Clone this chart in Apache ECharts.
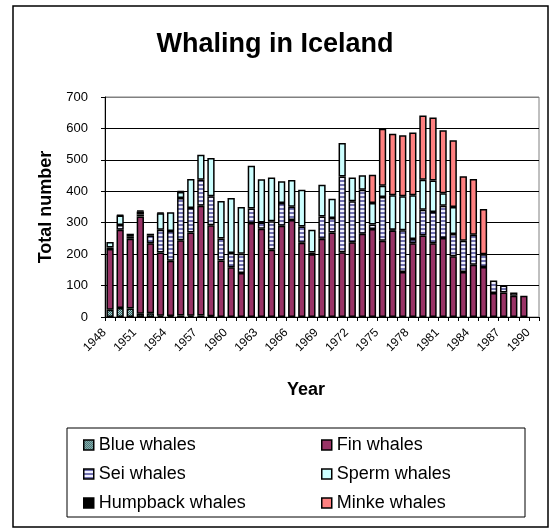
<!DOCTYPE html>
<html>
<head>
<meta charset="utf-8">
<script src="https://cdn.jsdelivr.net/npm/echarts@6.0.0/dist/echarts.min.js"></script>
<style>
  html, body { margin: 0; padding: 0; background: #fff; }
  #chart { width: 550px; height: 529px; }
</style>
</head>
<body>
<div id="chart"></div>
<script>
// years 1948 - 1990
const years = []
for (let y = 1948; y <= 1990; y++) years.push(String(y))

const blueWhales = [23, 29, 27, 10, 12, 4, 3, 5, 4, 5, 2, 0, 0, 0, 0, 0, 0, 0, 0, 0, 0, 0, 0, 0, 0, 0, 0, 0, 0, 0, 0, 0, 0, 0, 0, 0, 0, 0, 0, 0, 0, 0, 0]
const finWhales = [193, 249, 222, 310, 223, 201, 176, 239, 265, 349, 290, 180, 158, 140, 299, 281, 214, 290, 309, 236, 200, 249, 269, 206, 238, 265, 280, 243, 275, 143, 235, 259, 235, 251, 193, 143, 166, 159, 76, 78, 68, 68, 0]
const seiWhales = [5, 15, 8, 6, 24, 73, 95, 135, 78, 83, 92, 70, 46, 61, 46, 20, 91, 73, 42, 52, 5, 71, 46, 241, 130, 140, 14, 139, 3, 133, 13, 82, 99, 103, 71, 100, 96, 41, 40, 22, 10, 0, 0]
const spermWhales = [18, 30, 8, 10, 6, 52, 59, 19, 92, 79, 122, 119, 175, 149, 136, 137, 139, 69, 85, 117, 73, 101, 61, 107, 76, 46, 69, 36, 109, 108, 139, 96, 100, 40, 86, 0, 0, 0, 0, 0, 0, 0, 0]
const humpbackWhales = [0, 2, 0, 2, 0, 2, 0, 2, 0, 0, 0, 0, 0, 0, 0, 0, 0, 0, 0, 0, 0, 0, 0, 0, 0, 0, 0, 0, 0, 0, 0, 0, 0, 0, 0, 0, 0, 0, 0, 0, 0, 0, 0]
const minkeWhales = [0, 0, 0, 0, 0, 0, 0, 0, 0, 0, 0, 0, 0, 0, 0, 0, 0, 0, 0, 0, 0, 0, 0, 0, 0, 0, 90, 181, 196, 194, 200, 204, 201, 200, 212, 205, 177, 144, 0, 0, 0, 0, 0]

const FONT = 'Arial, "Liberation Sans", sans-serif'

// small canvas fills for the hatched series
function pattern (w, h, draw) {
  const c = document.createElement('canvas')
  c.width = w
  c.height = h
  draw(c.getContext('2d'))
  return { image: c, repeat: 'repeat' }
}

const bluePattern = pattern(2, 2, function (ctx) {
  ctx.fillStyle = '#a8c8c8'
  ctx.fillRect(0, 0, 2, 2)
  ctx.fillStyle = '#2f6060'
  ctx.fillRect(0, 0, 1, 1)
  ctx.fillRect(1, 1, 1, 1)
})

const seiPattern = pattern(4, 4, function (ctx) {
  ctx.fillStyle = '#f0f0ff'
  ctx.fillRect(0, 0, 4, 4)
  ctx.fillStyle = '#7070b0'
  ctx.fillRect(0, 0, 4, 2)
})

function barSeries (name, data, color) {
  return {
    name: name,
    type: 'bar',
    stack: 'total',
    barWidth: '72%',
    itemStyle: {
      color: color,
      borderColor: '#000',
      borderWidth: 1.5
    },
    emphasis: { disabled: true },
    data: data.map(function (v) { return v || null })
  }
}

const legendText = { fontFamily: FONT, fontSize: 18, lineHeight: 18, color: '#000' }

const chart = echarts.init(document.getElementById('chart'))
chart.setOption({
  animation: false,
  textStyle: { fontFamily: FONT, color: '#000' },
  title: {
    text: 'Whaling in Iceland',
    left: 270,
    top: 26,
    textAlign: 'center',
    textStyle: { fontFamily: FONT, fontSize: 27, fontWeight: 'bold', color: '#000' }
  },
  grid: {
    left: 105,
    right: 11,
    top: 97,
    bottom: 212,
    show: true,
    borderColor: '#808080',
    borderWidth: 1
  },
  legend: [{
    orient: 'vertical',
    left: 78,
    top: 431,
    itemWidth: 10,
    itemHeight: 10,
    itemGap: 11,
    icon: 'rect',
    itemStyle: { borderColor: '#000', borderWidth: 1.5 },
    textStyle: legendText,
    data: ['Blue whales', 'Sei whales', 'Humpback whales']
  }, {
    orient: 'vertical',
    left: 316,
    top: 431,
    itemWidth: 10,
    itemHeight: 10,
    itemGap: 11,
    icon: 'rect',
    itemStyle: { borderColor: '#000', borderWidth: 1.5 },
    textStyle: legendText,
    data: ['Fin whales', 'Sperm whales', 'Minke whales']
  }],
  graphic: [{
    type: 'rect',
    shape: { x: 13, y: 6, width: 535, height: 521 },
    style: { fill: null, stroke: '#000', lineWidth: 1.5 },
    silent: true
  }, {
    type: 'rect',
    shape: { x: 67, y: 428, width: 458, height: 89 },
    style: { fill: null, stroke: '#000', lineWidth: 1 },
    silent: true
  }],
  xAxis: {
    type: 'category',
    data: years,
    name: 'Year',
    nameLocation: 'middle',
    nameGap: 64,
    nameTextStyle: {
      fontFamily: FONT,
      fontSize: 18,
      fontWeight: 'bold',
      color: '#000',
      padding: [0, 32, 0, 0]
    },
    axisLine: { lineStyle: { color: '#000', width: 1 } },
    axisTick: { show: true, interval: 0, length: 4, lineStyle: { color: '#000' } },
    axisLabel: {
      interval: 2,
      rotate: 45,
      margin: 8,
      padding: [0, 8, 0, 0],
      fontFamily: FONT,
      fontSize: 12,
      color: '#000'
    },
    splitLine: { show: false }
  },
  yAxis: {
    type: 'value',
    min: 0,
    max: 700,
    interval: 100,
    name: 'Total number',
    nameLocation: 'middle',
    nameRotate: 90,
    nameGap: 50,
    nameTextStyle: { fontFamily: FONT, fontSize: 18, fontWeight: 'bold', color: '#000' },
    axisLine: { show: true, lineStyle: { color: '#000', width: 1 } },
    axisTick: { show: true, length: 4, lineStyle: { color: '#000' } },
    axisLabel: { fontFamily: FONT, fontSize: 13, color: '#000', margin: 17 },
    splitLine: {
      show: true,
      lineStyle: { color: ['#000', '#000', '#000', '#000', '#000', '#000', '#000', '#808080'], width: 1 }
    }
  },
  series: [
    barSeries('Blue whales', blueWhales, bluePattern),
    barSeries('Fin whales', finWhales, '#993366'),
    barSeries('Sei whales', seiWhales, seiPattern),
    barSeries('Sperm whales', spermWhales, '#ccffff'),
    barSeries('Humpback whales', humpbackWhales, '#000000'),
    barSeries('Minke whales', minkeWhales, '#ff8080')
  ]
})
</script>
</body>
</html>
